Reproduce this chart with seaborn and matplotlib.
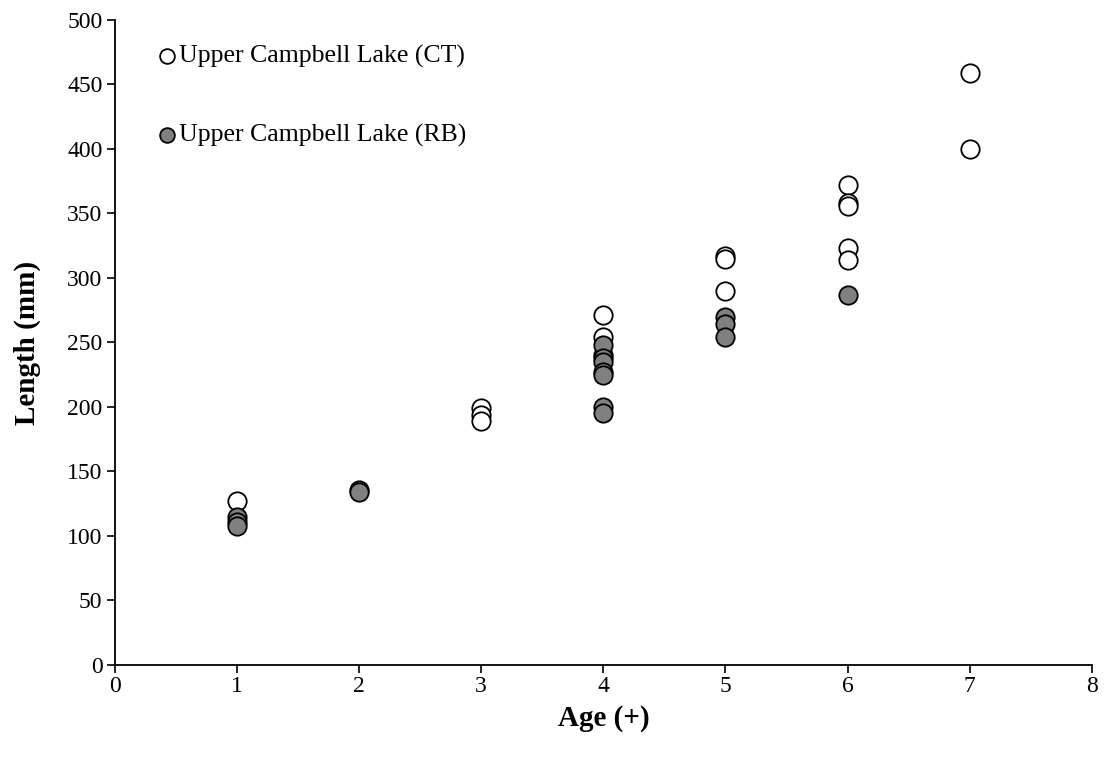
import matplotlib
matplotlib.use("Agg")
import matplotlib.pyplot as plt
import seaborn as sns
import pandas as pd

# Upper Campbell Lake (CT)
ct_age = [1, 3, 3, 3, 4, 4, 4, 5, 5, 5, 6, 6, 6, 6, 6, 7, 7]
ct_len = [127, 199, 194, 189, 271, 254, 240, 317, 315, 290, 372, 358, 356, 323, 314, 459, 400]

# Upper Campbell Lake (RB)
rb_age = [1, 1, 1, 2, 2, 4, 4, 4, 4, 4, 4, 4, 5, 5, 5, 6]
rb_len = [115, 111, 108, 136, 134, 248, 238, 235, 227, 225, 200, 195, 270, 264, 254, 287]

labels = ["Upper Campbell Lake (CT)", "Upper Campbell Lake (RB)"]
x_ticks = [0, 1, 2, 3, 4, 5, 6, 7, 8]
y_ticks = [0, 50, 100, 150, 200, 250, 300, 350, 400, 450, 500]

df_ct = pd.DataFrame({"Age": ct_age, "Length": ct_len})
df_rb = pd.DataFrame({"Age": rb_age, "Length": rb_len})

sns.set_style("white")
plt.rcParams["font.family"] = ["Liberation Serif", "DejaVu Serif"]
plt.rcParams["text.color"] = "black"
plt.rcParams["axes.labelcolor"] = "black"

fig = plt.figure(figsize=(11.05, 7.58), dpi=100)
ax = fig.add_axes([0.104, 0.1227, 0.884, 0.851])

sns.scatterplot(data=df_ct, x="Age", y="Length", ax=ax, s=175, color="white",
                edgecolor="black", linewidth=1.3, label=labels[0], zorder=3)
sns.scatterplot(data=df_rb, x="Age", y="Length", ax=ax, s=175, color="#808080",
                edgecolor="black", linewidth=1.3, label=labels[1], zorder=4)

ax.set_xlim(0, 8)
ax.set_ylim(0, 500)
ax.set_xticks(x_ticks)
ax.set_yticks(y_ticks)
ax.tick_params(axis="both", direction="out", length=6, width=1.2, colors="black",
               labelsize=17, left=True, bottom=True)
ax.tick_params(axis="y", pad=3)
ax.tick_params(axis="x", pad=2)
for s in ["top", "right"]:
    ax.spines[s].set_visible(False)
for s in ["left", "bottom"]:
    ax.spines[s].set_color("black")
    ax.spines[s].set_linewidth(1.3)

ax.set_xlabel("Age (+)", fontsize=21, fontweight="bold", labelpad=6)
ax.set_ylabel("Length (mm)", fontsize=21, fontweight="bold", labelpad=19)

leg = ax.legend(loc="upper left", bbox_to_anchor=(0.043, 0.962), frameon=False,
                fontsize=18.5, handletextpad=0.05, labelspacing=2.18, markerscale=0.8,
                handlelength=0.8, borderaxespad=0, borderpad=0)

fig.savefig("out.png", dpi=100)
